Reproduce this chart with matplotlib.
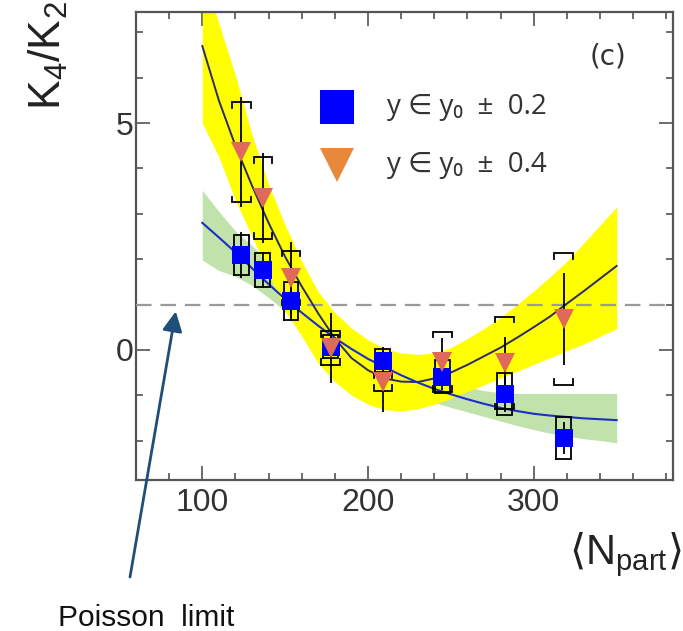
import numpy as np
import matplotlib
matplotlib.use("Agg")
import matplotlib.pyplot as plt
from matplotlib.ticker import MultipleLocator

plt.rcParams['font.family'] = ['Liberation Sans', 'DejaVu Sans']
plt.rcParams['mathtext.fontset'] = 'dejavusans'

# data
npart = [123.4, 136.6, 153.5, 177.5, 209.0, 244.7, 282.6, 318.0]

sq_y = [2.09, 1.76, 1.08, 0.07, -0.24, -0.59, -0.97, -1.94]
sq_stat = [0.50, 0.40, 0.45, 0.28, 0.30, 0.30, 0.40, 0.35]
sq_sys = [0.45, 0.38, 0.42, 0.25, 0.25, 0.36, 0.46, 0.46]

tr_y = [4.36, 3.35, 1.58, 0.04, -0.70, -0.26, -0.29, 0.68]
tr_stat = [1.22, 1.00, 0.80, 0.77, 0.68, 0.52, 0.58, 1.02]
tr_sys = [1.10, 0.90, 0.60, 0.37, 0.20, 0.66, 1.02, 1.45]

# fit curves and bands, sampled every 10 in Npart
fit_x = np.arange(100, 351, 10)
tri_fit = [6.70, 5.50, 4.50, 3.62, 2.80, 2.05, 1.40, 0.80, 0.25, -0.18, -0.45, -0.63, -0.70,
           -0.71, -0.63, -0.50, -0.33, -0.14, 0.05, 0.27, 0.50, 0.74, 1.02, 1.29, 1.57, 1.85]
sq_fit = [2.80, 2.48, 2.15, 1.80, 1.45, 1.12, 0.82, 0.53, 0.26, 0.02, -0.20, -0.38, -0.56,
          -0.72, -0.86, -0.98, -1.09, -1.19, -1.28, -1.35, -1.41, -1.45, -1.48, -1.51, -1.53, -1.55]
yel_hi = [8.40, 7.20, 6.05, 4.75, 3.65, 2.75, 1.95, 1.28, 0.82, 0.48, 0.22, 0.03, -0.07,
          -0.10, -0.07, 0.05, 0.25, 0.47, 0.72, 1.00, 1.30, 1.62, 1.95, 2.35, 2.75, 3.15]
yel_lo = [5.00, 4.25, 3.30, 2.50, 1.70, 0.85, 0.30, -0.30, -0.70, -1.00, -1.20, -1.32, -1.35,
          -1.30, -1.20, -1.07, -0.92, -0.77, -0.62, -0.47, -0.32, -0.17, -0.02, 0.13, 0.30, 0.47]
grn_hi = [3.52, 3.05, 2.62, 2.30, 1.95, 1.60, 1.30, 1.00, 0.72, 0.45, 0.20, -0.02, -0.22,
          -0.40, -0.56, -0.70, -0.82, -0.90, -0.94, -0.96, -0.96, -0.96, -0.96, -0.96, -0.96, -0.96]
grn_lo = [1.98, 1.75, 1.62, 1.42, 1.15, 0.85, 0.55, 0.25, -0.02, -0.27, -0.50, -0.70, -0.88,
          -1.03, -1.16, -1.27, -1.37, -1.47, -1.57, -1.67, -1.76, -1.84, -1.90, -1.96, -2.00, -2.05]

poisson_limit = 1.0
labels = ["y \u2208 y\u2080  \u00b1  0.2", "y \u2208 y\u2080  \u00b1  0.4"]


def brackets(ax, xs, ys, errs, w, h):
    # systematic errors as square brackets
    for x, y, e in zip(xs, ys, errs):
        top, bot = y + e, y - e
        ax.plot([x - w, x - w, x + w, x + w], [top - h, top, top, top - h],
                color='k', lw=1.3, zorder=5, solid_joinstyle='miter')
        ax.plot([x - w, x - w, x + w, x + w], [bot + h, bot, bot, bot + h],
                color='k', lw=1.3, zorder=5, solid_joinstyle='miter')


def boxes(ax, xs, ys, errs, w):
    # systematic errors as open boxes
    for x, y, e in zip(xs, ys, errs):
        ax.plot([x - w, x + w, x + w, x - w, x - w], [y - e, y - e, y + e, y + e, y - e],
                color='k', lw=1.3, zorder=5, solid_joinstyle='miter')


fig = plt.figure(figsize=(6.83, 6.31), dpi=100)
ax = fig.add_axes([136 / 683, 1 - 480 / 631, 537 / 683, 468 / 631])

ax.fill_between(fit_x, grn_lo, grn_hi, color='#c2e2ab', lw=0, zorder=1)
ax.fill_between(fit_x, yel_lo, yel_hi, color='#ffff00', lw=0, zorder=2)
ax.axhline(poisson_limit, color='#9a9a9a', lw=1.6, dashes=(7, 4), zorder=3)
ax.plot(fit_x, tri_fit, color='#2b2b6b', lw=1.4, zorder=4)
ax.plot(fit_x, sq_fit, color='#1a2fc8', lw=1.5, zorder=4)

ax.errorbar(npart, sq_y, yerr=sq_stat, fmt='none', ecolor='k', elinewidth=1.3, zorder=5)
ax.errorbar(npart, tr_y, yerr=tr_stat, fmt='none', ecolor='k', elinewidth=1.3, zorder=5)
boxes(ax, npart, sq_y, sq_sys, 4.5)
brackets(ax, npart, tr_y, tr_sys, 5.7, 0.12)

ax.plot(npart, sq_y, 's', color='#0000ff', ms=13.5, mew=0, zorder=6)
ax.plot(npart, tr_y, 'v', color='#e06a5a', ms=15, mew=0, zorder=7)

ax.set_xlim(60, 384)
ax.set_ylim(-2.87, 7.45)
ax.set_xticks([100, 200, 300])
ax.set_yticks([0, 5])
ax.xaxis.set_minor_locator(MultipleLocator(20))
ax.yaxis.set_minor_locator(MultipleLocator(1))
ax.tick_params(which='both', direction='in', top=True, right=True, color='#444444', width=1.1)
ax.tick_params(which='major', length=10, labelsize=23, labelcolor='#333333')
ax.tick_params(which='minor', length=5)
ax.tick_params(axis='x', pad=6)
ax.tick_params(axis='y', pad=2)
for s in ax.spines.values():
    s.set_linewidth(1.6)
    s.set_color('#555555')

# legend
ax.plot([0.374], [0.797], 's', color='#0000ff', ms=24, mew=0, transform=ax.transAxes)
ax.plot([0.374], [0.673], 'v', color='#e8883a', ms=25, mew=0, transform=ax.transAxes)
for yy, lab in zip([0.797, 0.673], labels):
    ax.text(0.467, yy, lab, transform=ax.transAxes, fontsize=20, color='#333333',
            va='center', ha='left', family=['Open Sans', 'DejaVu Sans'])

ax.text(0.879, 0.904, "(c)", transform=ax.transAxes, fontsize=20, color='#333333',
        ha='center', va='center', family='DejaVu Sans')

fig.text(27 / 683, 1 - 110 / 631, r'K$_{\mathregular{4}}$/K$_{\mathregular{2}}$', rotation=90,
         fontsize=32, ha='left', va='bottom', color='#222222')
fig.text(682 / 683, 1 - 555 / 631, r'$\langle\mathregular{N}_{\mathregular{part}}\rangle$',
         fontsize=30, ha='right', va='center', color='#222222')

ax.annotate('', xy=(84, 0.85), xycoords='data', xytext=(130, 631 - 577),
            textcoords='figure pixels', annotation_clip=False,
            arrowprops=dict(arrowstyle='-|>,head_length=0.6,head_width=0.3', color='#1f4e79',
                            lw=2, mutation_scale=20, shrinkA=0, shrinkB=0))
fig.text(58 / 683, 5 / 631, "Poisson  limit", fontsize=21.5, ha='left', va='baseline', color='#111111')

fig.savefig("out.png", dpi=100)
